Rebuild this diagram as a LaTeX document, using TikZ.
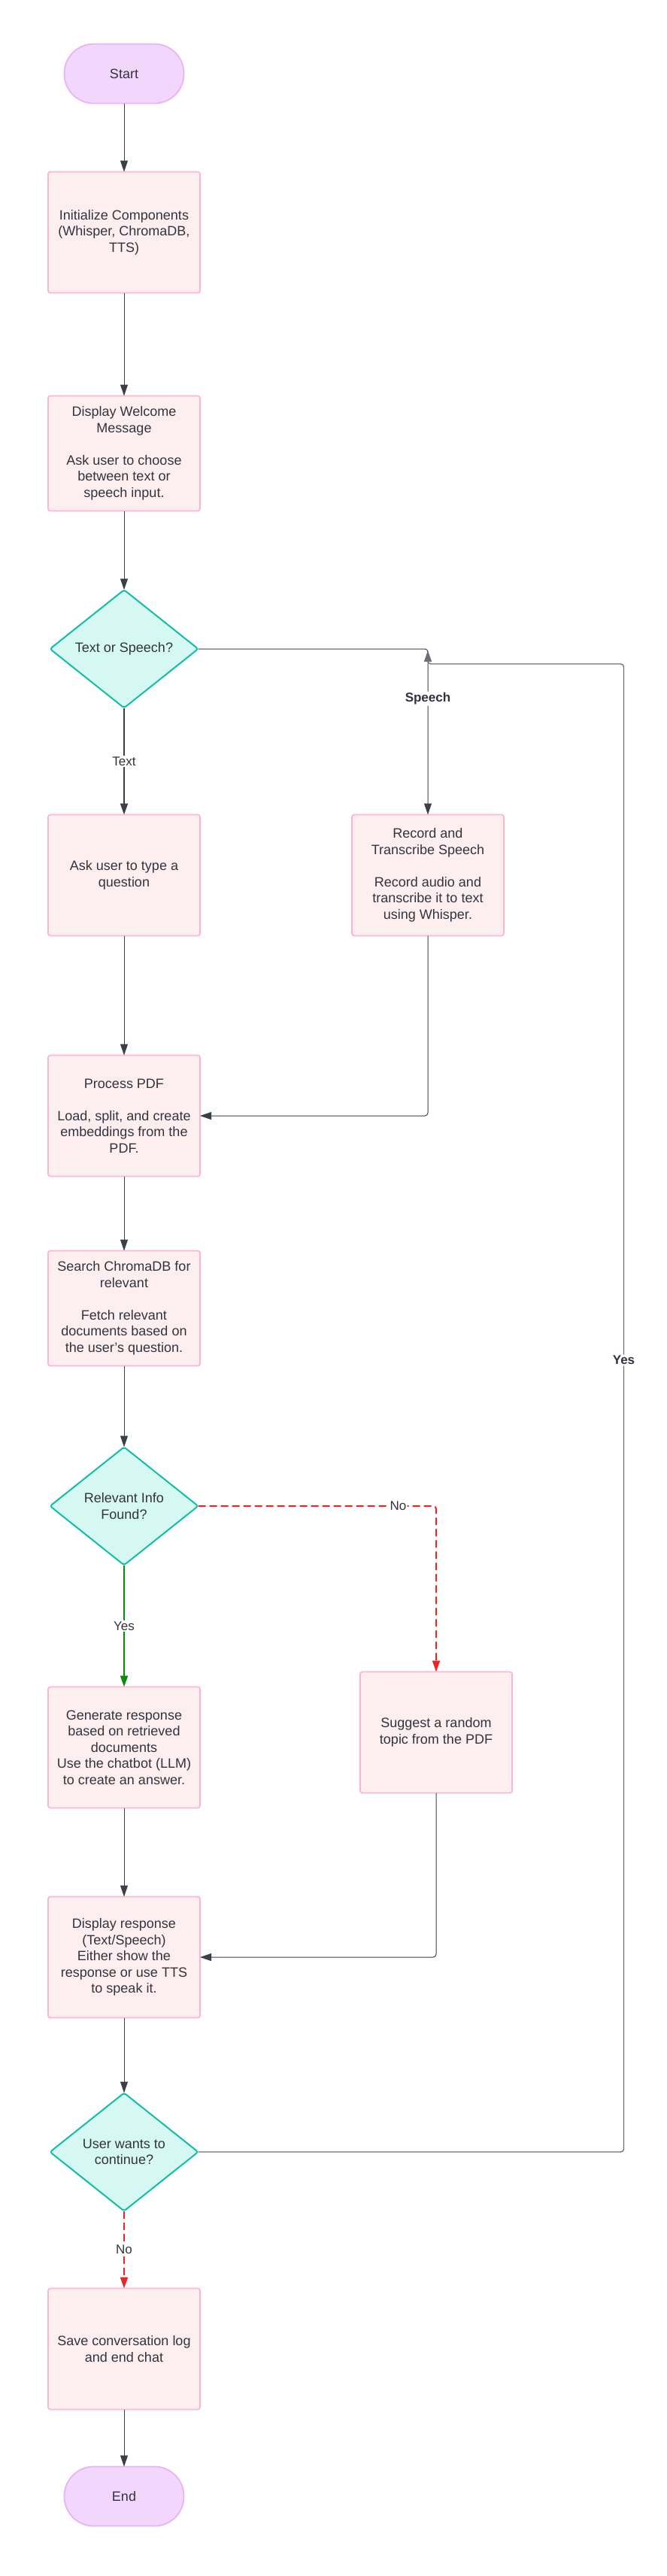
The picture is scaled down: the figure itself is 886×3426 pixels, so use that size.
\documentclass[tikz,border=0pt]{standalone}
\usepackage{fontspec}
\setmainfont{Liberation Sans}
\usetikzlibrary{shapes.geometric, positioning, arrows.meta}
\definecolor{termfill}{HTML}{F2D6FC}
\definecolor{termdraw}{HTML}{E9B4F7}
\definecolor{boxfill}{HTML}{FDEFF0}
\definecolor{boxdraw}{HTML}{FDB5D2}
\definecolor{decfill}{HTML}{D5F8F2}
\definecolor{decdraw}{HTML}{12BFA6}
\definecolor{linecol}{HTML}{3B3F4A}
\definecolor{backcol}{HTML}{6B6E75}
\definecolor{yesgreen}{HTML}{0B8A0B}
\definecolor{nored}{HTML}{E8262A}
\definecolor{txt}{HTML}{33333F}
\tikzset{
>={Triangle[length=15pt, width=10pt]}, % filled arrow heads
every node/.style={font=\fontsize{18}{21.5}\selectfont, text=txt, align=center}, % text of every node
term/.style={rectangle, rounded corners=39pt, draw=termdraw, fill=termfill, line width=1.8pt, outer sep=0pt, minimum width=159pt, minimum height=79pt}, % start and end
process/.style={rectangle, rounded corners=3pt, draw=boxdraw, fill=boxfill, line width=1.8pt, outer sep=0pt, minimum width=202pt, minimum height=161pt}, % steps
shortbox/.style={process, minimum height=153pt}, % the two shorter steps
decision/.style={diamond, rounded corners=3pt, draw=decdraw, fill=decfill, line width=2pt, outer sep=0pt, minimum width=197pt, minimum height=157pt, inner sep=0pt}, % questions
flow/.style={->, draw=linecol, line width=1pt}, % plain connector
textpath/.style={flow, line width=2pt}, % the text branch
yespath/.style={->, draw=yesgreen, line width=2pt}, % green yes branch
nopath/.style={->, draw=nored, line width=2pt, dash pattern=on 10pt off 5pt}, % red dashed no branch
back/.style={->, draw=backcol, line width=1.3pt}, % loop back to the question
lbl/.style={fill=white, inner sep=1.5pt, font=\fontsize{17}{20}\selectfont}, % connector labels
boldlbl/.style={lbl, font=\fontsize{17}{20}\selectfont\bfseries}
}

\begin{document}
\begin{tikzpicture}[x=1pt, y=-1pt]
      \useasboundingbox (0,0) rectangle (886,3426);

      \node[term] (start) at (165,98) {Start};
      \node[process, below=91pt of start] (init) {Initialize Components\\(Whisper, ChromaDB,\\TTS)};
      \node[shortbox, below=137pt of init] (welcome) {Display Welcome\\Message\\[21.5pt]Ask user to choose\\between text or\\speech input.};
      \node[decision, below=105pt of welcome] (mode) {Text or Speech?};
      \node[process, below=142pt of mode] (ask) {Ask user to type a\\question};
      \node[process, right=202pt of ask] (record) {Record and\\Transcribe Speech\\[21.5pt]Record audio and\\transcribe it to text\\using Whisper.};
      \node[process, below=159pt of ask] (pdf) {Process PDF\\[21.5pt]Load, split, and create\\embeddings from the\\PDF.};
      \node[shortbox, below=99pt of pdf] (search) {Search ChromaDB for\\relevant\\[21.5pt]Fetch relevant\\documents based on\\the user's question.};
      \node[decision, below=108pt of search] (found) {Relevant Info\\Found?};
      \node[process, below=162pt of found] (generate) {Generate response\\based on retrieved\\documents\\Use the chatbot (LLM)\\to create an answer.};
      \node[process, right=213pt of generate, yshift=20pt] (suggest) {Suggest a random\\topic from the PDF};
      \node[process, below=118pt of generate] (display) {Display response\\(Text/Speech)\\Either show the\\response or use TTS\\to speak it.};
      \node[decision, below=100pt of display] (again) {User wants to\\continue?};
      \node[process, below=103pt of again] (save) {Save conversation log\\and end chat};
      \node[term, below=76pt of save] (end) {End};
      \coordinate (merge) at (record.north |- mode.east);

      \draw (start) edge[flow] (init)
      (init) edge[flow] (welcome)
      (welcome) edge[flow] (mode)
      (mode) edge[textpath] node[lbl] {Text} (ask)
      (ask) edge[flow] (pdf)
      (pdf) edge[flow] (search)
      (search) edge[flow] (found)
      (found) edge[yespath] node[lbl] {Yes} (generate)
      (generate) edge[flow] (display)
      (display) edge[flow] (again)
      (again) edge[nopath] node[lbl] {No} (save)
      (save) edge[flow] (end);

      \draw[flow, rounded corners=4pt] (mode.east) -| node[boldlbl, pos=0.65] {Speech} (record.north);
      \draw[flow, rounded corners=4pt] (record.south) |- (pdf.east);
      \draw[nopath, rounded corners=4pt] (found.east) -| node[lbl, pos=0.42] {No} (suggest.north);
      \draw[flow, rounded corners=4pt] (suggest.south) |- (display.east);
      \draw[back, rounded corners=4pt] (again.east) -- ++(566,0) |- node[boldlbl, pos=0.266] {Yes} ([yshift=-20pt]merge) -- ([yshift=-2pt]merge);
    \end{tikzpicture}
\end{document}
